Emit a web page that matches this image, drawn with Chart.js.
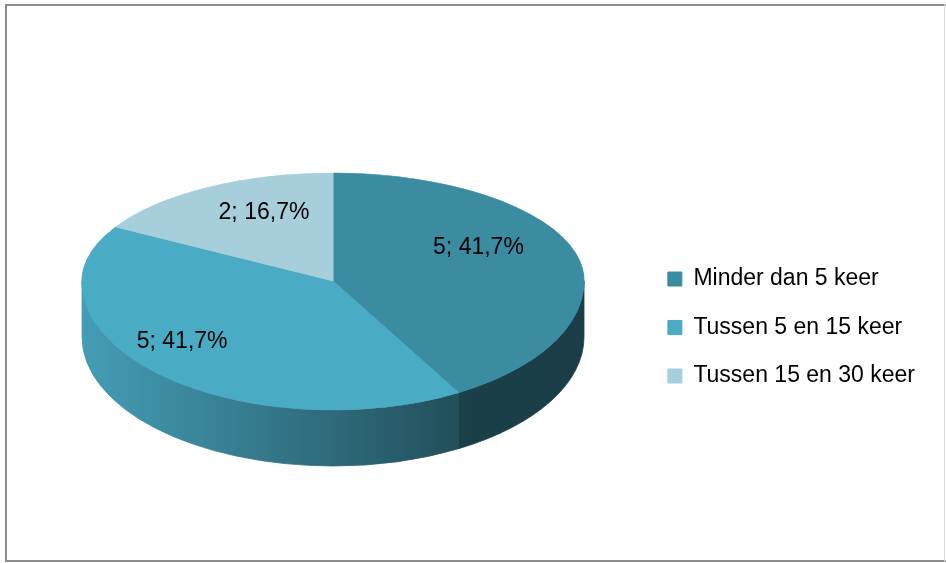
<!DOCTYPE html>
<html>
<head>
<meta charset="utf-8">
<script src="https://cdn.jsdelivr.net/npm/chart.js@4.4.1/dist/chart.umd.min.js"></script>
<style>
  html, body { margin: 0; background: #fff; }
  canvas { display: block; }
</style>
</head>
<body>
<canvas id="chart" width="946" height="563"></canvas>
<script>
const categories = ['Minder dan 5 keer', 'Tussen 5 en 15 keer', 'Tussen 15 en 30 keer'];
const counts = [5, 5, 2];
const colors = ['#3b8ba1', '#4aabc5', '#a7cedb'];

// tilted pie look
const pieCenter = { x: 333, y: 281 };
const pieRx = 251;
const pieRyTop = 108;
const pieRyBottom = 129;
const pieDepth = 56;
const labelRadius = [0.6, 0.85, 0.55];
const labelShift = -17;

const total = counts.reduce((a, b) => a + b, 0);
const pct = v => (v / total * 100).toFixed(1).replace('.', ',') + '%';

const shade = (hex, f) => {
  const n = parseInt(hex.slice(1), 16);
  const c = [n >> 16 & 255, n >> 8 & 255, n & 255].map(v => Math.round(v * f));
  return `rgb(${c[0]},${c[1]},${c[2]})`;
};

const toEllipse = (ctx, arc, ry) => {
  const R = arc.outerRadius;
  ctx.translate(pieCenter.x, pieCenter.y);
  ctx.scale(pieRx / R, ry / R);
  ctx.translate(-arc.x, -arc.y);
};

const pie3d = {
  id: 'pie3d',
  beforeDraw(chart) {
    const ctx = chart.ctx;
    ctx.save();
    ctx.fillStyle = '#8c8c8c';
    ctx.fillRect(5, 4, 941, 2);
    ctx.fillRect(5, 4, 2, 558);
    ctx.fillRect(5, 560, 941, 2);
    ctx.fillStyle = '#dcdcdc';
    ctx.fillRect(944, 4, 1, 558);
    ctx.restore();
  },
  beforeDatasetsDraw(chart) {
    const ctx = chart.ctx;
    const meta = chart.getDatasetMeta(0);
    const { x: cx, y: cy } = pieCenter;

    // side wall, only the front half shows
    meta.data.forEach((arc, i) => {
      for (let k = -1; k <= 1; k++) {
        const lo = Math.max(arc.startAngle + k * 2 * Math.PI, 0);
        const hi = Math.min(arc.endAngle + k * 2 * Math.PI, Math.PI);
        if (hi <= lo) continue;
        const g = ctx.createLinearGradient(cx - pieRx, 0, cx + pieRx, 0);
        [[0, 0.92], [0.5, 0.62], [0.75, 0.46], [1, 0.44]].forEach(([s, f]) => {
          g.addColorStop(s, shade(colors[i], f));
        });
        ctx.save();
        ctx.beginPath();
        ctx.ellipse(cx, cy, pieRx, pieRyBottom, 0, lo, hi);
        ctx.ellipse(cx, cy + pieDepth, pieRx, pieRyBottom, 0, hi, lo, true);
        ctx.closePath();
        ctx.fillStyle = g;
        ctx.strokeStyle = g;
        ctx.lineWidth = 0.8;
        ctx.fill();
        ctx.stroke();
        ctx.restore();
      }
    });

    // top face, back half
    ctx.save();
    ctx.beginPath();
    ctx.rect(0, 0, chart.width, cy);
    ctx.clip();
    toEllipse(ctx, meta.data[0], pieRyTop);
  },
  afterDatasetsDraw(chart) {
    const ctx = chart.ctx;
    const meta = chart.getDatasetMeta(0);
    ctx.restore();

    // top face, front half
    ctx.save();
    ctx.beginPath();
    ctx.rect(0, pieCenter.y, chart.width, chart.height - pieCenter.y);
    ctx.clip();
    toEllipse(ctx, meta.data[0], pieRyBottom);
    meta.controller.draw();
    ctx.restore();

    // data labels
    ctx.save();
    ctx.font = '23px "Liberation Sans", Arial, sans-serif';
    ctx.fillStyle = '#000';
    ctx.textAlign = 'center';
    ctx.textBaseline = 'middle';
    meta.data.forEach((arc, i) => {
      const mid = (arc.startAngle + arc.endAngle) / 2;
      const ry = Math.sin(mid) < 0 ? pieRyTop : pieRyBottom;
      const x = pieCenter.x + labelRadius[i] * pieRx * Math.cos(mid);
      const y = pieCenter.y + labelRadius[i] * ry * Math.sin(mid) + labelShift;
      ctx.fillText(`${counts[i]}; ${pct(counts[i])}`, x, y);
    });
    ctx.restore();
  }
};

Chart.defaults.font.family = '"Liberation Sans", Arial, sans-serif';

new Chart(document.getElementById('chart'), {
  type: 'pie',
  data: {
    labels: categories,
    datasets: [{
      data: counts,
      backgroundColor: colors,
      borderColor: colors,
      borderWidth: 1,
      clip: false,
    }],
  },
  options: {
    responsive: false,
    animation: false,
    events: [],
    layout: { padding: { top: 92, right: 21 } },
    plugins: {
      tooltip: { enabled: false },
      legend: {
        position: 'right',
        labels: {
          color: '#000',
          font: { size: 23 },
          boxWidth: 14,
          boxHeight: 14,
          padding: 25.5,
        },
      },
    },
  },
  plugins: [pie3d],
});
</script>
</body>
</html>
